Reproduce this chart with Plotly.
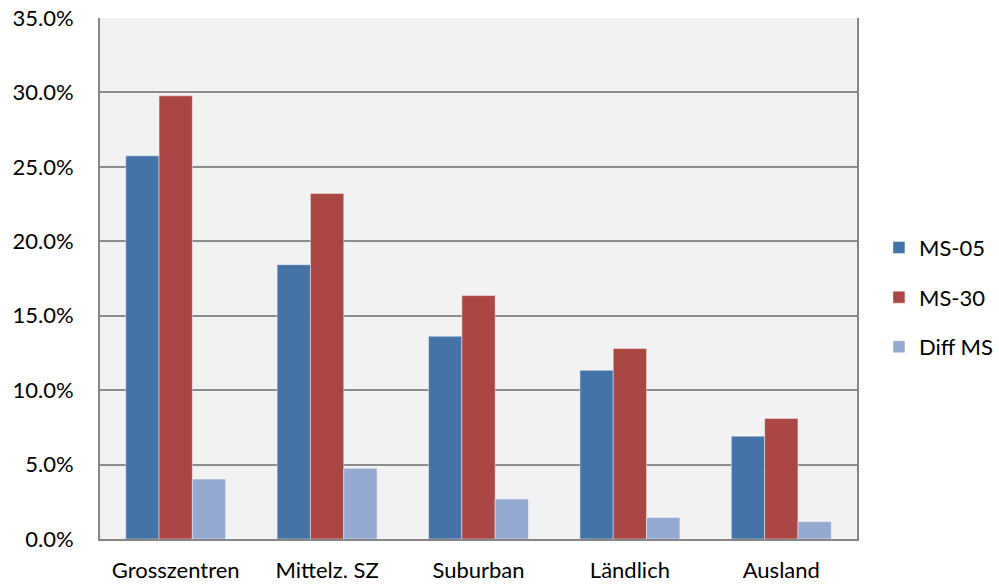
import plotly.graph_objects as go

categories = ["Grosszentren", "Mittelz. SZ", "Suburban", "Ländlich", "Ausland"]
ms_05 = [0.2574, 0.1843, 0.1362, 0.1133, 0.0691]
ms_30 = [0.2977, 0.2321, 0.1635, 0.1280, 0.0810]
diff_ms = [0.0403, 0.0475, 0.0268, 0.0144, 0.0117]

y_ticks = [0, 0.05, 0.10, 0.15, 0.20, 0.25, 0.30, 0.35]

series = [
    ("MS-05", ms_05, "#4572A7"),
    ("MS-30", ms_30, "#AA4643"),
    ("Diff MS", diff_ms, "#95A9D1"),
]

fig = go.Figure()
for name, vals, color in series:
    fig.add_trace(go.Bar(
        name=name,
        x=categories,
        y=vals,
        legendgroup=name,
        marker=dict(color=color, line=dict(color="rgba(255,255,255,0.45)", width=1)),
    ))

font_family = "Lato, Carlito, 'Open Sans', sans-serif"

fig.update_layout(
    width=999,
    height=586,
    margin=dict(l=100, r=142, t=18, b=47, autoexpand=False),
    paper_bgcolor="white",
    plot_bgcolor="#F2F2F2",
    barmode="group",
    bargap=0.34,
    bargroupgap=0,
    font=dict(family=font_family, size=22, color="#000000"),
    legend=dict(
        x=1.029, y=0.464, xanchor="left", yanchor="middle",
        tracegroupgap=18,
        itemwidth=30,
        font=dict(family=font_family, size=22, color="#000000"),
        bgcolor="rgba(0,0,0,0)",
    ),
    xaxis=dict(
        showgrid=False,
        showline=True, linecolor="#868686", linewidth=2,
        ticks="", tickfont=dict(size=22),
        ticklabelstandoff=11,
        mirror=False,
    ),
    yaxis=dict(
        range=[0, 0.35],
        tickvals=y_ticks,
        tickformat=".1%",
        showgrid=True, gridcolor="#8C8C8C", gridwidth=2,
        showline=True, linecolor="#868686", linewidth=2, mirror=True,
        zeroline=False,
        ticks="", tickfont=dict(size=22),
        ticklabelstandoff=20,
    ),
)

fig.write_html("out.html")
